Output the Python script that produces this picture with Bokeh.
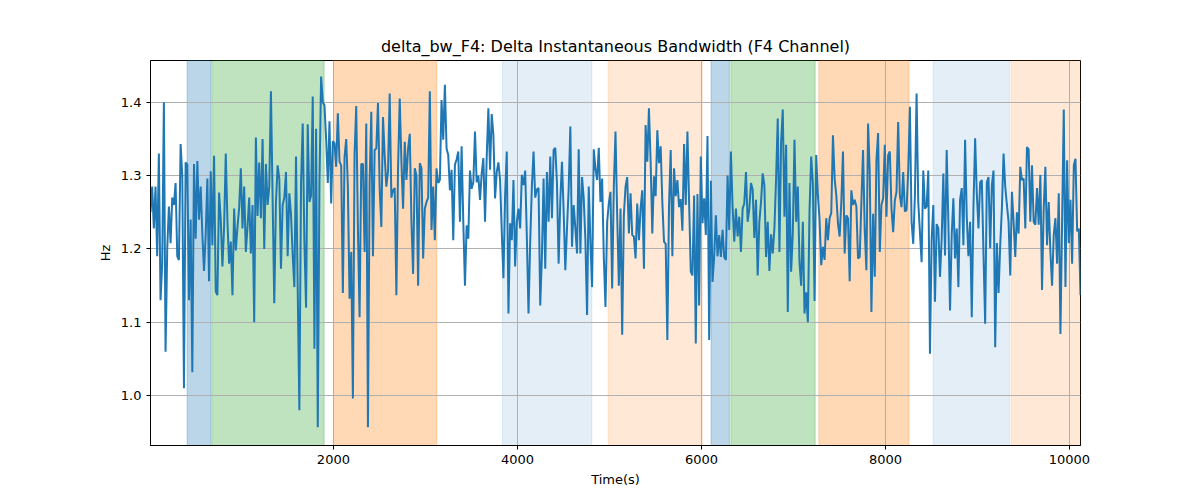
from bokeh.plotting import figure
from bokeh.models import Range1d, FixedTicker, PrintfTickFormatter, BoxAnnotation
from bokeh.embed import file_html
from bokeh.resources import INLINE
import numpy as np

# valores, por trechos da esquerda para a direita
seg1 = [1.25, 1.285, 1.228, 1.285, 1.19, 1.33, 1.13, 1.18, 1.40, 1.06,
        1.20, 1.258, 1.208, 1.27, 1.26, 1.29, 1.19, 1.185, 1.343, 1.30,
        1.01, 1.318, 1.315, 1.13, 1.24, 1.032, 1.316, 1.214, 1.32, 1.24,
        1.285, 1.22, 1.17, 1.22, 1.296, 1.156, 1.306, 1.205, 1.327, 1.142,
        1.137, 1.277, 1.24, 1.176, 1.23, 1.33, 1.237, 1.18, 1.21, 1.137,
        1.255, 1.198, 1.23, 1.256, 1.31, 1.228, 1.285, 1.196, 1.23, 1.27,
        1.194, 1.26, 1.10, 1.352, 1.245, 1.318, 1.242, 1.35, 1.20, 1.316,
        1.26, 1.285, 1.415, 1.27, 1.126]
seg2 = [1.264, 1.314, 1.296, 1.173, 1.26, 1.27, 1.305, 1.19, 1.276, 1.247,
        1.192, 1.148, 1.326, 1.146, 0.98, 1.29, 1.371, 1.21, 1.12, 1.37,
        1.264, 1.273, 1.408, 1.064, 1.364, 0.957, 1.29, 1.435, 1.40, 1.396,
        1.35, 1.29, 1.374, 1.262, 1.347, 1.344, 1.312, 1.385, 1.319, 1.314,
        1.14, 1.325, 1.35, 1.284, 1.132, 1.196, 0.996, 1.33, 1.395, 1.228,
        1.107, 1.316, 1.316, 1.196, 1.371, 0.957, 1.29, 1.387, 1.19, 1.335,
        1.337, 1.399, 1.283, 1.23, 1.38, 1.327, 1.285, 1.306, 1.412, 1.27,
        1.28, 1.283, 1.137]
seg3 = [1.31, 1.405, 1.32, 1.255, 1.346, 1.294, 1.337, 1.357, 1.237, 1.166,
        1.31, 1.30, 1.15, 1.317, 1.31, 1.187, 1.255, 1.264, 1.27, 1.415,
        1.226, 1.285, 1.212, 1.31, 1.29, 1.294, 1.403, 1.349, 1.424, 1.337,
        1.328, 1.28, 1.308, 1.212, 1.315, 1.322, 1.333, 1.237, 1.34, 1.237,
        1.15, 1.232, 1.214, 1.307, 1.282, 1.291, 1.36, 1.291, 1.30, 1.267,
        1.303, 1.324, 1.237, 1.325, 1.392, 1.308, 1.384, 1.355, 1.269, 1.305,
        1.318, 1.294, 1.223, 1.16, 1.273, 1.333, 1.112, 1.235, 1.212, 1.294,
        1.176, 1.237, 1.255, 1.228, 1.301, 1.287, 1.307, 1.216, 1.112]
seg4 = [1.21, 1.285, 1.333, 1.27, 1.281, 1.283, 1.123, 1.19, 1.296, 1.173,
        1.305, 1.237, 1.326, 1.242, 1.335, 1.338, 1.29, 1.18, 1.266, 1.319,
        1.251, 1.171, 1.228, 1.282, 1.367, 1.203, 1.26, 1.228, 1.194, 1.336,
        1.194, 1.298, 1.269, 1.212, 1.11, 1.285, 1.21, 1.148, 1.336, 1.31,
        1.294, 1.338, 1.264, 1.296, 1.19, 1.121, 1.237, 1.262, 1.278, 1.146,
        1.285, 1.36, 1.246, 1.15, 1.255, 1.083, 1.246, 1.285, 1.298, 1.221,
        1.276, 1.219, 1.217, 1.187, 1.262, 1.212, 1.255, 1.28, 1.173, 1.369,
        1.319, 1.392, 1.319, 1.221]
seg5 = [1.299, 1.272, 1.362, 1.317, 1.34, 1.264, 1.21, 1.207, 1.076, 1.26,
        1.335, 1.19, 1.31, 1.272, 1.294, 1.257, 1.268, 1.225, 1.343, 1.26,
        1.36, 1.264, 1.169, 1.164, 1.273, 1.071, 1.275, 1.123, 1.326, 1.235,
        1.269, 1.219, 1.354, 1.076, 1.293, 1.155, 1.19, 1.246, 1.19, 1.219,
        1.189, 1.226, 1.189, 1.185, 1.30, 1.226, 1.333, 1.258, 1.21, 1.255,
        1.217, 1.244, 1.196, 1.255, 1.262, 1.305, 1.237, 1.255, 1.29, 1.281,
        1.215, 1.267, 1.164, 1.237, 1.264, 1.303, 1.287, 1.189, 1.237, 1.17,
        1.22, 1.194, 1.228, 1.296]
seg6 = [1.378, 1.196, 1.346, 1.39, 1.244, 1.342, 1.114, 1.29, 1.169, 1.221,
        1.349, 1.237, 1.285, 1.182, 1.15, 1.237, 1.112, 1.141, 1.10, 1.253,
        1.326, 1.289, 1.129, 1.328, 1.273, 1.24, 1.178, 1.203, 1.185, 1.242,
        1.212, 1.242, 1.249, 1.355, 1.296, 1.273, 1.235, 1.217, 1.264, 1.333,
        1.194, 1.246, 1.242, 1.156, 1.28, 1.26, 1.267, 1.258, 1.187, 1.189,
        1.264, 1.335, 1.226, 1.171, 1.371, 1.305, 1.114, 1.248, 1.162, 1.321,
        1.358, 1.196, 1.26, 1.269, 1.342, 1.244, 1.328, 1.333, 1.255, 1.223,
        1.266, 1.278, 1.373]
seg7 = [1.273, 1.257, 1.305, 1.251, 1.253, 1.307, 1.394, 1.237, 1.207, 1.273,
        1.412, 1.264, 1.223, 1.182, 1.307, 1.255, 1.258, 1.307, 1.057, 1.212,
        1.26, 1.128, 1.234, 1.228, 1.162, 1.214, 1.303, 1.191, 1.335, 1.237,
        1.116, 1.219, 1.269, 1.187, 1.228, 1.148, 1.267, 1.283, 1.205, 1.349,
        1.244, 1.19, 1.237, 1.107, 1.257, 1.351, 1.276, 1.228, 1.291, 1.294,
        1.194, 1.098, 1.291, 1.298, 1.201, 1.287, 1.307, 1.066, 1.208, 1.14,
        1.205, 1.255, 1.33, 1.285, 1.26, 1.237, 1.164, 1.278, 1.237, 1.189,
        1.25, 1.221, 1.312, 1.294, 1.296, 1.228, 1.339]
seg8 = [1.336, 1.237, 1.314, 1.237, 1.233, 1.283, 1.233, 1.301, 1.144, 1.255,
        1.312, 1.205, 1.264, 1.196, 1.15, 1.219, 1.242, 1.18, 1.276, 1.084,
        1.237, 1.39, 1.148, 1.321, 1.208, 1.267, 1.18, 1.314, 1.323, 1.224,
        1.228, 1.137]

delta_bw = seg1 + seg2 + seg3 + seg4 + seg5 + seg6 + seg7 + seg8
t_start, t_end = 12, 10120
time_s = np.linspace(t_start, t_end, len(delta_bw))  # amostras igualmente espacadas

# faixas coloridas (inicio, fim, cor, transparencia)
span_start = [410, 678, 2000, 3837, 4986, 6105, 6320, 7276, 8518, 9366]
span_end = [667, 1899, 3124, 4809, 6008, 6304, 7236, 8257, 9348, 10200]
span_color = ["#1f77b4", "#2ca02c", "#ff7f0e", "#1f77b4", "#ff7f0e",
              "#1f77b4", "#2ca02c", "#ff7f0e", "#1f77b4", "#ff7f0e"]
span_alpha = [0.3, 0.3, 0.3, 0.12, 0.17, 0.3, 0.3, 0.3, 0.12, 0.17]

x_ticks = [2000, 4000, 6000, 8000, 10000]
y_ticks = [1.0, 1.1, 1.2, 1.3, 1.4]

p = figure(title="delta_bw_F4: Delta Instantaneous Bandwidth (F4 Channel)",
           x_axis_label="Time(s)", y_axis_label="Hz",
           width=1190, height=490, output_backend="svg", toolbar_location=None,
           x_range=Range1d(t_start, t_end), y_range=Range1d(0.932, 1.457),
           min_border_left=150, min_border_right=110, min_border_top=60, min_border_bottom=45)

# faixas por baixo da grade
boxes = []
for s, e, c, a in zip(span_start, span_end, span_color, span_alpha):
    boxes.append(BoxAnnotation(left=s, right=e, fill_color=c, fill_alpha=a,
                               line_color=c, line_alpha=a, line_width=1, level="underlay"))
p.center = boxes + list(p.center)

p.line(time_s, delta_bw, line_color="#1f77b4", line_width=2)

p.title.text_font = "DejaVu Sans"
p.title.text_font_size = "16px"
p.title.text_font_style = "normal"
p.title.text_color = "black"
p.title.align = "center"

for ax in [p.xaxis, p.yaxis]:
    ax.axis_label_text_font = "DejaVu Sans"
    ax.axis_label_text_font_size = "13px"
    ax.axis_label_text_font_style = "normal"
    ax.axis_label_text_color = "black"
    ax.major_label_text_font = "DejaVu Sans"
    ax.major_label_text_font_size = "13px"
    ax.major_label_text_color = "black"
    ax.axis_line_color = "black"
    ax.major_tick_line_color = "black"
    ax.major_tick_out = 4
    ax.major_tick_in = 0
    ax.minor_tick_line_color = None

p.xaxis.ticker = FixedTicker(ticks=x_ticks)
p.yaxis.ticker = FixedTicker(ticks=y_ticks)
p.yaxis.formatter = PrintfTickFormatter(format="%.1f")

p.grid.grid_line_color = "#b0b0b0"
p.grid.grid_line_width = 1
p.outline_line_color = "black"
p.outline_line_width = 1
p.outline_line_alpha = 1

open("out.html", "w").write(file_html(p, INLINE))
